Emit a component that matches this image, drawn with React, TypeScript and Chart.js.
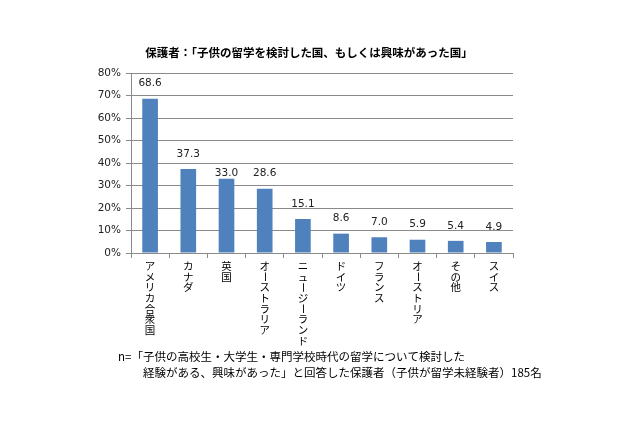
import { useEffect, useRef } from "react";
import { Chart, registerables } from "chart.js";

Chart.register(...registerables);

const titleText = "保護者：「子供の留学を検討した国、もしくは興味があった国」";
const categories = [
  "アメリカ合衆国",
  "カナダ",
  "英国",
  "オーストラリア",
  "ニュージーランド",
  "ドイツ",
  "フランス",
  "オーストリア",
  "その他",
  "スイス",
];
const values = [68.6, 37.3, 33.0, 28.6, 15.1, 8.6, 7.0, 5.9, 5.4, 4.9];
const yMin = 0;
const yMax = 80;
const yStep = 10;
const footnoteLines = [
  "n=「子供の高校生・大学生・専門学校時代の留学について検討した",
  "経験がある、興味があった」と回答した保護者（子供が留学未経験者）185名",
];

const JP = '"Noto Sans CJK JP", sans-serif';
const NUM = '"DejaVu Sans", sans-serif';
const BAR = "#4F81BD";
const GRID = "#8a8a8a";

const decorPlugin = {
  id: "decor",
  afterDraw(chart: any) {
    const ctx = chart.ctx as CanvasRenderingContext2D;
    const area = chart.chartArea;
    ctx.save();
    // title
    ctx.fillStyle = "#000";
    ctx.font = `bold 11.5px ${JP}`;
    ctx.textAlign = "center";
    ctx.textBaseline = "middle";
    ctx.fillText(titleText, 309, 53);

    // value labels
    const meta = chart.getDatasetMeta(0);
    ctx.font = `10.5px ${NUM}`;
    ctx.fillStyle = "#222";
    meta.data.forEach((bar: any, i: number) => {
      const lift = i === 2 ? 5 : 15;
      ctx.fillText(values[i].toFixed(1), bar.x, bar.y - lift);
    });

    // vertical category labels
    const xs = chart.scales.x;
    ctx.font = `10.5px ${JP}`;
    ctx.fillStyle = "#000";
    const step = 10.7;
    categories.forEach((label, i) => {
      const x = xs.getPixelForValue(i);
      let y = area.bottom + 13;
      for (const ch of Array.from(label)) {
        if (ch === "ー") {
          ctx.save();
          ctx.translate(x, y);
          ctx.rotate(Math.PI / 2);
          ctx.fillText(ch, 0, 0);
          ctx.restore();
        } else {
          ctx.fillText(ch, x, y);
        }
        y += step;
      }
    });

    // footnote
    ctx.font = `11.5px ${JP}`;
    ctx.textAlign = "left";
    ctx.fillStyle = "#000";
    ctx.fillText(footnoteLines[0], 118, 357);
    ctx.fillText(footnoteLines[1], 143, 373);
    ctx.restore();
  },
};

export default function App() {
  const ref = useRef<HTMLCanvasElement>(null);
  useEffect(() => {
    document.body.style.margin = "0";
    const chart = new Chart(ref.current!, {
      type: "bar",
      data: {
        labels: categories,
        datasets: [
          {
            data: values,
            backgroundColor: BAR,
            borderWidth: 0,
            barPercentage: 0.41,
            categoryPercentage: 1,
          },
        ],
      },
      options: {
        responsive: false,
        animation: false,
        devicePixelRatio: 1,
        layout: { padding: { top: 73, left: 0, right: 127, bottom: 0 } },
        plugins: {
          legend: { display: false },
          title: { display: false },
          tooltip: { enabled: false },
        },
        scales: {
          x: {
            afterFit: (s: any) => {
              s.height = 173;
            },
            ticks: { display: false },
            grid: {
              drawOnChartArea: false,
              drawTicks: true,
              tickLength: 5,
              color: GRID,
              offset: true,
            },
            border: { color: GRID, width: 1 },
          },
          y: {
            min: yMin,
            max: yMax,
            afterFit: (s: any) => {
              s.width = 131;
            },
            ticks: {
              stepSize: yStep,
              callback: (v: any) => `${v}%`,
              font: { family: NUM, size: 10.5 },
              color: "#222",
              padding: 5,
            },
            grid: {
              color: GRID,
              lineWidth: 1,
              drawTicks: true,
              tickLength: 5,
            },
            border: { color: GRID, width: 1 },
          },
        },
      },
      plugins: [decorPlugin],
    });
    return () => chart.destroy();
  }, []);
  return (
    <div style={{ position: "absolute", left: 0, top: 0, width: 640, height: 426, background: "#fff" }}>
      <canvas ref={ref} width={640} height={426} style={{ display: "block" }} />
    </div>
  );
}
